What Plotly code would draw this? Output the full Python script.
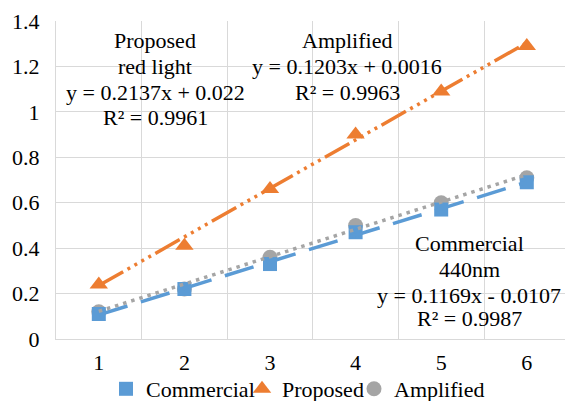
import plotly.graph_objects as go

# ---- data ----
categories = [1, 2, 3, 4, 5, 6]
commercial = [0.11, 0.22, 0.33, 0.47, 0.57, 0.69]
proposed = [0.24, 0.41, 0.66, 0.90, 1.09, 1.29]
amplified = [0.12, 0.22, 0.36, 0.50, 0.60, 0.71]

# trendline coefficients (slope, intercept) as printed on the chart
commercial_fit = [0.1169, -0.0107]
proposed_fit = [0.2137, 0.022]
amplified_fit = [0.1203, 0.0016]

y_tickvals = [0, 0.2, 0.4, 0.6, 0.8, 1.0, 1.2, 1.4]
y_ticktext = ["0", "0.2", "0.4", "0.6", "0.8", "1", "1.2", "1.4"]
x_ticktext = ["1", "2", "3", "4", "5", "6"]

BLUE = "#5B9BD5"
ORANGE = "#ED7D31"
GRAY = "#A5A5A5"
GRID = "#D9D9D9"
FONT = "Liberation Serif"

W, H = 565, 401
L, R, T, B = 56, 0, 21, 62
cat_w = 85.6
x0 = 0.5
x1 = x0 + (W - L - R) / cat_w
plot_w = W - L - R
plot_h = H - T - B


def px2x(px):
    return x0 + (px - L) / cat_w


def px2y(py):
    return (H - B - py) * 1.4 / plot_h


def trend(fit):
    xs = [categories[0], categories[-1]]
    return xs, [fit[0] * x + fit[1] for x in xs]


fig = go.Figure()

fig.add_trace(go.Scatter(
    x=categories, y=amplified, mode="markers", name="Amplified", legend="legend3",
    marker=dict(symbol="circle", size=15, color=GRAY)))
fig.add_trace(go.Scatter(
    x=categories, y=commercial, mode="markers", name="Commercial", legend="legend",
    marker=dict(symbol="square", size=14, color=BLUE)))
fig.add_trace(go.Scatter(
    x=categories, y=proposed, mode="markers", name="Proposed", legend="legend2",
    marker=dict(symbol="triangle-up", size=16, color=ORANGE)))

tx, ty = trend(commercial_fit)
fig.add_trace(go.Scatter(x=tx, y=ty, mode="lines", showlegend=False,
                         line=dict(color=BLUE, width=3.5, dash="30px,14px")))
tx, ty = trend(proposed_fit)
fig.add_trace(go.Scatter(x=tx, y=ty, mode="lines", showlegend=False,
                         line=dict(color=ORANGE, width=3.5,
                                   dash="28px,5px,3px,5px,3px,5px,3px,5px,3px,5px")))
tx, ty = trend(amplified_fit)
fig.add_trace(go.Scatter(x=tx, y=ty, mode="lines", showlegend=False,
                         line=dict(color=GRAY, width=3.5, dash="3.5px,5px")))

# trendline labels, one annotation per line
labels = [
    (155, [40, 66, 92, 117], ["Proposed", "red light", "y = 0.2137x + 0.022", "R² = 0.9961"]),
    (347, [40, 66, 92], ["Amplified", "y = 0.1203x + 0.0016", "R² = 0.9963"]),
    (469, [243, 269, 295, 318], ["Commercial", "440nm", "y = 0.1169x - 0.0107", "R² = 0.9987"]),
]
for cx, ys, lines in labels:
    for py, txt in zip(ys, lines):
        fig.add_annotation(x=px2x(cx), y=px2y(py), xref="x", yref="y", text=txt,
                           showarrow=False, xanchor="center", yanchor="middle",
                           font=dict(family=FONT, size=22, color="#000"))


def legend_at(px_left):
    return dict(orientation="h", x=(px_left - L) / plot_w, xanchor="left",
                y=(H - B - 389) / plot_h, yanchor="middle",
                font=dict(family=FONT, size=22, color="#000"),
                itemwidth=30, bgcolor="rgba(0,0,0,0)", borderwidth=0)


fig.update_layout(
    width=W, height=H,
    margin=dict(l=L, r=R, t=T, b=B, pad=0, autoexpand=False),
    paper_bgcolor="white", plot_bgcolor="white",
    font=dict(family=FONT, size=22, color="#000"),
    showlegend=True,
    legend=legend_at(106),
    legend2=legend_at(242),
    legend3=legend_at(354),
)
fig.update_xaxes(
    range=[x0, x1], tickvals=categories, ticktext=x_ticktext,
    showgrid=False, zeroline=False, showline=True, linecolor=GRID, linewidth=1.3,
    ticks="", ticklabelstandoff=3,
    minor=dict(tick0=0.5, dtick=1, showgrid=True, gridcolor=GRID, gridwidth=1.3, ticks=""),
    tickfont=dict(family=FONT, size=22, color="#000"))
fig.update_yaxes(
    range=[0, 1.4], tickvals=y_tickvals, ticktext=y_ticktext,
    showgrid=True, gridcolor=GRID, gridwidth=1.3, zeroline=False,
    showline=True, linecolor=GRID, linewidth=1.3, ticks="", ticklabelstandoff=11,
    tickfont=dict(family=FONT, size=22, color="#000"))

fig.write_html("out.html", config={"displayModeBar": False},
               post_script="document.body.style.margin='0';")
